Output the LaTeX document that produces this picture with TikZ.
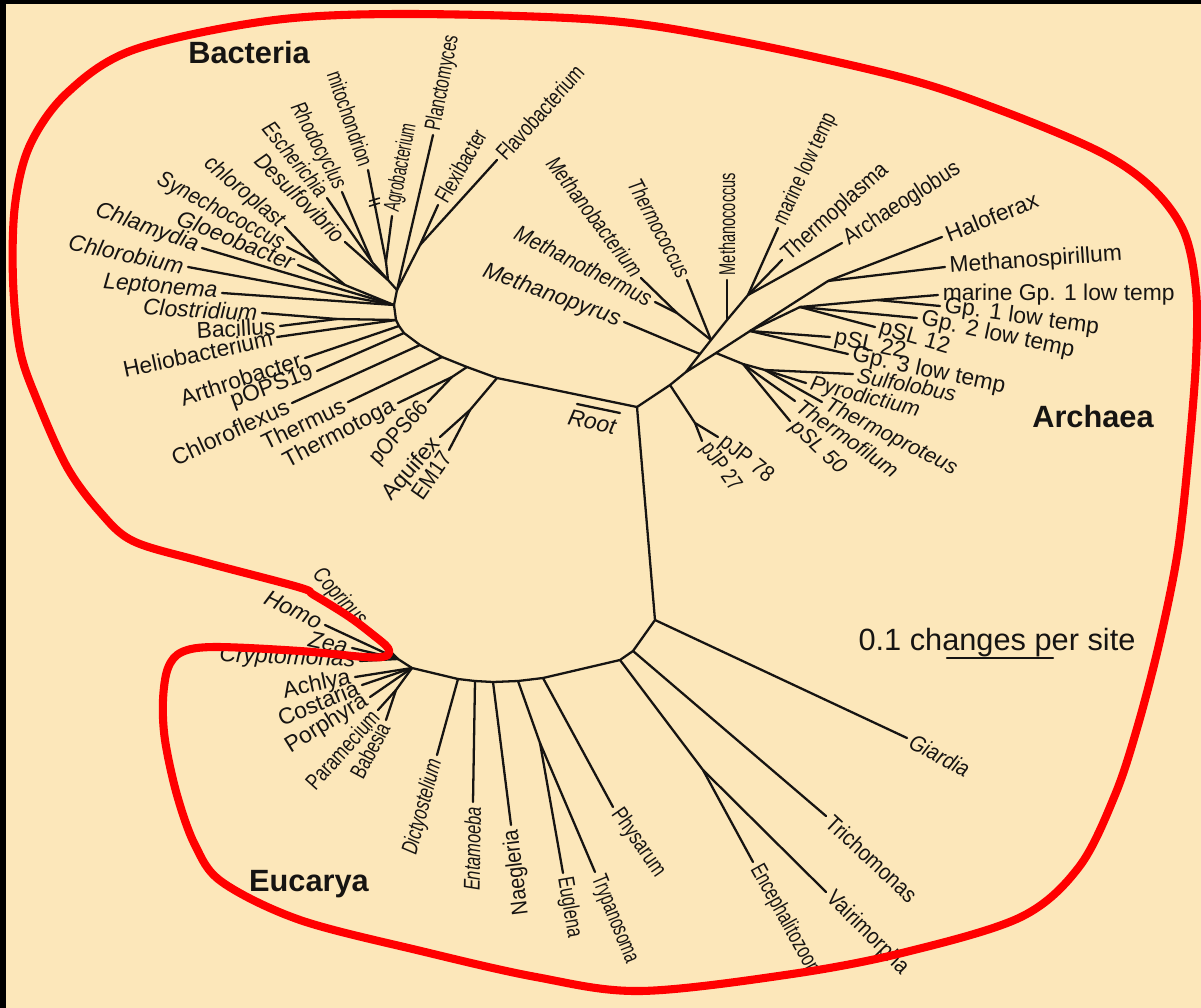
\documentclass[tikz,border=0pt]{standalone}
\usepackage{fontspec}
\usepackage{graphicx}
\setmainfont{Liberation Sans}
\usetikzlibrary{calc}
\definecolor{paper}{HTML}{FCE7BA}
\definecolor{hullred}{HTML}{FF0000}
\definecolor{ink}{HTML}{161412}
\newcommand{\taxfont}{\fontsize{13}{15}\selectfont}
\newcommand{\nar}[2][0.72]{\scalebox{#1}[1]{#2}}
\newcommand{\mdn}[1]{\scalebox{0.88}[1]{#1}}
% tip, branch from parent, label along the branch
\newcommand{\leaf}[7]{%
  \coordinate (#1) at (#2);
  \draw[branch] (#3) -- (#1);
  \node[#4, anchor=#5, rotate=#6] (#1-t) at (#1) {#7};}

\begin{document}
\begin{tikzpicture}[
  x=0.02cm, y=-0.02cm,
  branch/.style={draw=ink, line width=1.3pt, line cap=round, line join=round},
  taxup/.style={font=\taxfont, text=ink, inner sep=2.5pt},
  taxit/.style={font=\taxfont\itshape, text=ink, inner sep=2.5pt},
  crenit/.style={font=\fontsize{12.2}{14}\selectfont\itshape, text=ink, inner sep=2.5pt},
  realm/.style={font=\fontsize{17.5}{20}\selectfont\bfseries, text=ink},
  scaletext/.style={font=\fontsize{17.5}{20}\selectfont, text=ink},
  hull/.style={draw=hullred, line width=4.6pt, line join=round}
]
  % Paper and frame
  \fill[black] (0,0) rectangle (1201,1008);
  \fill[paper] (6,4) rectangle (1201,1008);
  \useasboundingbox (0,0) rectangle (1201,1008);

  \coordinate (root) at (637,407);

  % Bacteria backbone
  \coordinate (b1) at (497,378);
  \coordinate (b2) at (467,367);
  \coordinate (b3) at (442,357);
  \coordinate (b4) at (420,345);
  \coordinate (b5) at (404,333);
  \coordinate (b5a) at (399,326);
  \coordinate (b6) at (396,320);
  \coordinate (b7) at (394,305);
  \coordinate (b8) at (397,290);
  \draw[branch] (root) -- (b1) -- (b2) -- (b3) -- (b4) -- (b5) -- (b5a) -- (b6) -- (b7) -- (b8);

  \coordinate (aq) at (470,410);
  \coordinate (tt) at (452,377);
  \coordinate (cb) at (337,319);
  \coordinate (cy) at (345,285);
  \coordinate (cy1) at (320,264);
  \coordinate (pr) at (388,280);
  \coordinate (er) at (372,262);
  \coordinate (am) at (386,262);
  \coordinate (fx) at (420,245);
  \draw[branch] (b1) -- (aq);
  \draw[branch] (b2) -- (tt);
  \draw[branch] (b6) -- (cb);
  \draw[branch] (b7) -- (cy) -- (cy1);
  \draw[branch] (b8) -- (pr) -- (er);
  \draw[branch] (pr) -- (am);
  \draw[branch] (b8) -- (fx);

  \leaf{aquifex}{440,437}{aq}{taxup}{east}{49}{Aquifex}
  \leaf{em17}{449,450}{aq}{taxup}{east}{55}{\mdn{EM17}}
  \leaf{thermotoga}{398,403}{tt}{taxup}{east}{28}{Thermotoga}
  \leaf{pops66}{428,402}{tt}{taxup}{east}{48}{\mdn{pOPS66}}
  \leaf{thermus}{348,402}{b3}{taxup}{east}{26}{Thermus}
  \leaf{chloroflexus}{292,403}{b4}{taxup}{east}{25}{Chloroflexus}
  \leaf{pops19}{317,371}{b5}{taxup}{east}{20}{pOPS19}
  \leaf{arthrobacter}{305,358}{b5a}{taxup}{east}{18}{Arthrobacter}
  \leaf{helio}{277,337}{b6}{taxup}{east}{12}{Heliobacterium}
  \leaf{bacillus}{280,326}{cb}{taxup}{east}{3}{Bacillus}
  \leaf{clostridium}{262,313}{cb}{taxit}{east}{-3}{Clostridium}
  \leaf{leptonema}{222,293}{b7}{taxit}{east}{-5}{Leptonema}
  \leaf{chlorobium}{188,267}{b7}{taxit}{east}{-12}{Chlorobium}
  \leaf{chlamydia}{202,248}{b7}{taxit}{east}{-20}{Chlamydia}
  \leaf{gloeobacter}{298,265}{cy}{taxit}{east}{-22}{Gloeobacter}
  \leaf{synecho}{287,247}{cy1}{taxit}{east}{-28}{\mdn{Synechococcus}}
  \leaf{chloroplast}{285,227}{cy1}{taxit}{east}{-40}{\mdn{chloroplast}}
  \leaf{desulfo}{345,242}{pr}{taxit}{east}{-45}{\mdn{Desulfovibrio}}
  \leaf{escherichia}{327,198}{er}{taxit}{east}{-51}{\nar[0.76]{Escherichia}}
  \leaf{rhodocyclus}{342,192}{er}{taxit}{east}{-62}{\nar{Rhodocyclus}}
  \leaf{mito}{368,170}{am}{taxup}{east}{-71}{\nar[0.69]{mitochondrion}}
  \leaf{agro}{392,216}{am}{taxup}{west}{79}{\nar[0.6]{Agrobacterium}}
  \leaf{plancto}{433,135}{b8}{taxup}{west}{79}{\nar[0.68]{Planctomyces}}
  \leaf{flexi}{438,205}{fx}{taxup}{west}{60}{\nar{Flexibacter}}
  \leaf{flavo}{497,160}{fx}{taxup}{west}{48}{\nar[0.76]{Flavobacterium}}

  % break mark on the mitochondrion branch
  \coordinate (brk) at ($(mito)!0.36!(am)$);
  \draw[branch, line width=0.9pt] ([shift={(-5,-2)}]brk) -- ++(10,-3);
  \draw[branch, line width=0.9pt] ([shift={(-5,3)}]brk) -- ++(10,-3);

  % Archaea
  \coordinate (a1) at (670,385);
  \coordinate (a2) at (686,372);
  \coordinate (pj) at (695,423);
  \draw[branch] (root) -- (a1) -- (a2);
  \draw[branch] (a1) -- (pj);
  \leaf{pjp78}{718,437}{pj}{taxup}{west}{-39}{\mdn{pJP 78}}
  \leaf{pjp27}{702,441}{pj}{taxup}{west}{-55}{\nar[0.76]{pJP 27}}

  \coordinate (m1) at (700,354);
  \coordinate (m2) at (711,340);
  \coordinate (m3) at (727,320);
  \coordinate (m4) at (748,295);
  \coordinate (mt) at (677,313);
  \draw[branch] (a2) -- (m1) -- (m2) -- (m3) -- (m4);
  \draw[branch] (m2) -- (mt);
  \leaf{mpyrus}{624,322}{m1}{taxit}{east}{-20}{Methanopyrus}
  \leaf{tcoccus}{687,280}{m2}{taxit}{east}{-62}{\nar{Thermococcus}}
  \leaf{mthermus}{655,302}{mt}{taxit}{east}{-27}{\mdn{Methanothermus}}
  \leaf{mbact}{641,278}{mt}{taxit}{east}{-53}{\nar[0.76]{Methanobacterium}}
  \leaf{mcoccus}{727,280}{m3}{taxup}{west}{90}{\nar[0.64]{Methanococcus}}
  \leaf{marinelt}{778,228}{m4}{taxup}{west}{65}{\nar{marine low temp}}
  \leaf{tplasma}{782,260}{m4}{taxup}{west}{42}{\mdn{Thermoplasma}}
  \leaf{aglobus}{842,243}{m4}{taxup}{west}{33}{\mdn{Archaeoglobus}}

  \coordinate (c0) at (716,353);
  \coordinate (g0) at (750,331);
  \coordinate (h0) at (828,281);
  \draw[branch] (a2) -- (c0) -- (g0) -- (h0);
  \leaf{halo}{942,237}{h0}{taxup}{west}{22}{Haloferax}
  \leaf{mspir}{945,267}{h0}{taxup}{west}{4}{Methanospirillum}

  \coordinate (g1) at (800,307);
  \coordinate (g2) at (877,300);
  \draw[branch] (g0) -- (g1) -- (g2);
  \leaf{mgp1}{938,295}{g2}{taxup}{west}{0}{marine Gp. 1 low temp}
  \leaf{gp1}{940,306}{g2}{taxup}{west}{-8}{Gp. 1 low temp}
  \leaf{gp2}{917,318}{g1}{taxup}{west}{-12}{Gp. 2 low temp}
  \leaf{psl12}{875,327}{g1}{taxup}{west}{-16}{pSL 12}
  \leaf{psl22}{830,337}{g0}{taxup}{west}{-12}{pSL 22}
  \leaf{gp3}{848,354}{g0}{taxup}{west}{-12}{Gp. 3 low temp}

  \coordinate (c1) at (743,364);
  \coordinate (c2) at (765,370);
  \draw[branch] (c0) -- (c1) -- (c2);
  \leaf{psl50}{790,421}{c1}{crenit}{west}{-44}{pSL 50}
  \leaf{tfilum}{795,401}{c1}{crenit}{west}{-35}{Thermofilum}
  \leaf{sulfo}{853,374}{c2}{crenit}{west}{-11}{Sulfolobus}
  \leaf{pyro}{806,383}{c2}{crenit}{west}{-14}{Pyrodictium}
  \leaf{tproteus}{822,402}{c2}{crenit}{west}{-27}{Thermoproteus}

  % Eucarya backbone
  \coordinate (e0) at (655,620);
  \coordinate (e1) at (633,651);
  \coordinate (e2) at (620,660);
  \coordinate (e3) at (543,678);
  \coordinate (e4) at (518,681);
  \coordinate (e5) at (493,682);
  \coordinate (e6) at (475,681);
  \coordinate (e7) at (458,679);
  \coordinate (e8) at (412,668);
  \coordinate (e9) at (398,659);
  \draw[branch] (root) -- (e0) -- (e1) -- (e2) -- (e3) -- (e4) -- (e5) -- (e6) -- (e7) -- (e8) -- (e9);

  \coordinate (mic) at (703,770);
  \coordinate (kin) at (540,743);
  \coordinate (pb) at (396,690);
  \draw[branch] (e2) -- (mic);
  \draw[branch] (e4) -- (kin);
  \draw[branch] (e8) -- (pb);

  \leaf{giardia}{907,738}{e0}{taxit}{west}{-28}{\mdn{Giardia}}
  \leaf{tricho}{826,816}{e1}{taxup}{west}{-43}{\mdn{Trichomonas}}
  \leaf{encep}{753,862}{mic}{taxup}{west}{-61}{\nar{Encephalitozoon}}
  \leaf{vairi}{826,892}{mic}{taxup}{west}{-45}{\mdn{Vairimorpha}}
  \leaf{physarum}{613,807}{e3}{taxup}{west}{-55}{\nar[0.76]{Physarum}}
  \leaf{euglena}{563,873}{kin}{taxup}{west}{-80}{\nar{Euglena}}
  \leaf{trypano}{595,872}{kin}{taxup}{west}{-68}{\nar[0.67]{Trypanosoma}}
  \leaf{naegleria}{511,825}{e5}{taxup}{east}{97}{\mdn{Naegleria}}
  \leaf{entamoeba}{473,802}{e6}{taxit}{east}{89}{\nar{Entamoeba}}
  \leaf{dicty}{437,755}{e7}{taxit}{east}{75}{\nar{Dictyostelium}}

  \leaf{achlya}{355,677}{e8}{taxup}{east}{12}{Achlya}
  \leaf{costaria}{362,685}{e8}{taxup}{east}{22}{Costaria}
  \leaf{porphyra}{370,697}{e8}{taxup}{east}{32}{Porphyra}
  \leaf{paramecium}{378,710}{pb}{taxup}{east}{48}{\nar[0.76]{Paramecium}}
  \leaf{babesia}{386,720}{pb}{taxup}{east}{62}{\nar{Babesia}}
  \leaf{crypto}{360,661}{e9}{taxit}{east}{-2}{Cryptomonas}
  \leaf{zea}{352,648}{e9}{taxit}{east}{-12}{Zea}
  \leaf{homo}{325,625}{e9}{taxit}{east}{-26}{Homo}
  \leaf{coprinus}{366,627}{e9}{taxit}{east}{-48}{\nar[0.76]{Coprinus}}

  % Root marker and scale
  \coordinate (rootbarA) at (577,404);
  \coordinate (rootbarB) at (620,413);
  \draw[branch] (rootbarA) -- (rootbarB);
  \node[taxit, rotate=-12] (rootlab) at (592,422) {Root};

  \node[scaletext] (scale) at (997,643) {0.1 changes per site};
  \coordinate (sbarL) at (947,658);
  \coordinate (sbarR) at (1053,658);
  \draw[branch] (sbarL) -- (sbarR);

  % Domains
  \node[realm] (bacteria) at (249,53) {Bacteria};
  \node[realm] (archaea) at (1093,417) {Archaea};
  \node[realm] (eucarya) at (309,884) {Eucarya};

  % Red outline
  \draw[hull] plot[smooth cycle, tension=0.55] coordinates {
    (133,50) (267,21) (400,14) (600,20) (733,40) (900,77) (1000,110)
    (1100,152) (1152,188) (1184,232) (1196,290) (1196,360) (1189,450)
    (1178,550) (1160,640) (1138,725) (1115,795) (1079,867) (1021,917)
    (906,952) (792,974) (640,991) (536,977) (421,951) (300,920) (222,882)
    (195,845) (177,795) (165,740) (163,700) (168,668) (182,652) (215,647)
    (300,651) (365,657) (386,656) (388,648) (372,634) (348,616) (314,595)
    (298,587) (200,561) (133,541) (100,512) (67,467) (37,400) (20,350)
    (13,280) (15,205) (30,145) (67,93)};
\end{tikzpicture}
\end{document}
